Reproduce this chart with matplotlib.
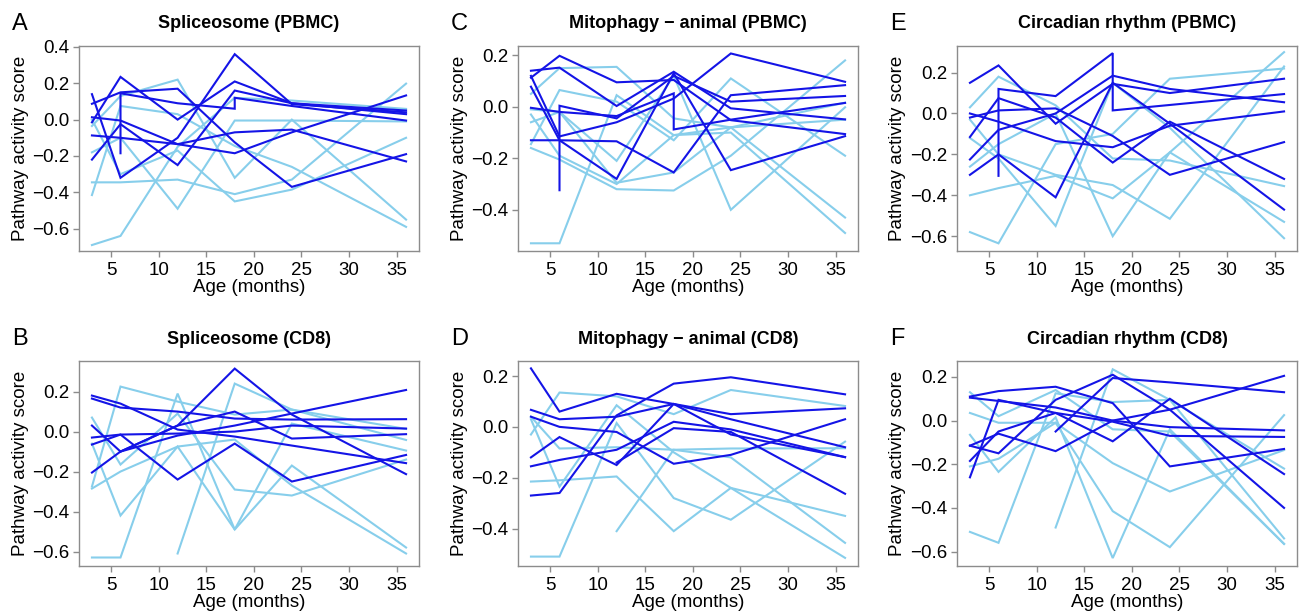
import matplotlib
matplotlib.use("Agg")
import matplotlib.pyplot as plt

plt.rcParams['font.family'] = ['Liberation Sans', 'DejaVu Sans']

AGES = [3, 6, 12, 18, 24, 36]

# ---- Spliceosome (PBMC) ----
A_light = [
    (AGES, [-0.69, -0.64, -0.15, 0.12, 0.105, 0.059]),
    (AGES, [-0.345, -0.345, -0.33, -0.41, -0.33, 0.198]),
    (AGES, [-0.415, 0.075, 0.03, -0.145, -0.26, -0.59]),
    (AGES, [-0.035, 0.13, 0.22, -0.32, 0.0, -0.55]),
    (AGES, [-0.18, -0.10, -0.49, -0.005, -0.005, -0.01]),
    (AGES, [0.0, -0.30, -0.17, -0.45, -0.385, -0.10]),
]
A_dark = [
    (AGES, [0.14, -0.32, -0.10, 0.36, 0.085, 0.04]),
    (AGES, [-0.015, 0.235, 0.0, 0.21, 0.09, 0.03]),
    (AGES, [0.087, 0.15, 0.17, -0.125, -0.37, -0.19]),
    (AGES, [0.013, -0.005, -0.135, -0.185, -0.07, 0.133]),
    (AGES, [-0.087, -0.10, -0.135, -0.07, -0.055, -0.23]),
    (AGES, [-0.22, -0.025, -0.25, 0.16, 0.09, 0.05]),
    ([6, 6, 12, 18, 18, 24, 36], [-0.185, 0.145, 0.09, 0.06, 0.12, 0.075, -0.005]),
]

# ---- Spliceosome (CD8) ----
B_light = [
    (AGES, [-0.63, -0.63, 0.19, -0.49, 0.04, -0.095]),
    (AGES, [-0.275, 0.225, 0.15, 0.085, 0.11, -0.042]),
    (AGES, [0.07, -0.165, 0.09, -0.29, -0.32, -0.14]),
    (AGES, [-0.06, -0.42, -0.075, -0.49, -0.17, -0.58]),
    (AGES, [-0.285, -0.20, -0.075, -0.04, -0.27, -0.61]),
    ([12, 18, 24, 36], [-0.61, 0.24, 0.11, 0.013]),
]
B_dark = [
    (AGES, [0.18, 0.14, 0.01, -0.025, -0.07, -0.158]),
    (AGES, [0.165, 0.12, 0.10, 0.065, 0.06, 0.062]),
    (AGES, [0.03, -0.10, 0.03, 0.315, 0.085, -0.213]),
    (AGES, [-0.03, -0.015, -0.01, 0.0, 0.03, 0.015]),
    (AGES, [-0.065, -0.015, -0.24, -0.06, -0.25, -0.117]),
    (AGES, [-0.205, -0.10, 0.03, 0.10, -0.035, -0.013]),
    ([6, 12, 18, 24, 36], [-0.10, -0.02, 0.03, 0.09, 0.208]),
]

# ---- Mitophagy - animal (PBMC) ----
C_light = [
    (AGES, [-0.53, -0.53, 0.045, -0.11, -0.08, -0.05]),
    (AGES, [0.05, 0.15, 0.155, -0.045, -0.08, -0.43]),
    (AGES, [-0.145, 0.065, 0.02, -0.13, 0.11, -0.19]),
    (AGES, [-0.16, -0.205, -0.32, -0.325, -0.19, 0.18]),
    (AGES, [-0.06, -0.02, -0.295, -0.255, -0.08, 0.016]),
    (AGES, [-0.01, -0.02, -0.21, 0.12, -0.40, -0.002]),
    (AGES, [-0.03, -0.19, -0.30, -0.11, -0.10, -0.49]),
]
C_dark = [
    (AGES, [0.113, 0.198, 0.095, 0.104, -0.052, -0.106]),
    (AGES, [0.14, 0.152, 0.003, 0.136, -0.006, -0.049]),
    (AGES, [0.12, -0.115, -0.06, 0.032, 0.207, 0.097]),
    (AGES, [0.078, -0.13, -0.28, 0.13, -0.246, -0.114]),
    ([3, 6, 12, 18, 18, 24, 36], [-0.004, -0.02, -0.036, 0.052, -0.088, -0.05, 0.015]),
    (AGES, [-0.13, -0.13, -0.134, -0.255, 0.045, 0.084]),
    ([6, 6, 12, 18, 24, 36], [-0.324, 0.004, -0.045, 0.12, 0.02, 0.042]),
]

# ---- Mitophagy - animal (CD8) ----
D_light = [
    (AGES, [-0.51, -0.51, 0.015, -0.28, -0.365, -0.058]),
    (AGES, [0.04, -0.085, -0.08, -0.09, -0.085, -0.084]),
    (AGES, [-0.03, 0.135, 0.12, 0.05, 0.145, 0.082]),
    (AGES, [-0.215, -0.21, -0.195, -0.41, -0.24, -0.35]),
    ([12, 18, 24, 36], [-0.41, -0.09, -0.12, -0.456]),
    (AGES, [0.03, -0.235, 0.085, -0.10, -0.24, -0.515]),
]
D_dark = [
    (AGES, [0.23, 0.06, 0.13, 0.09, 0.03, -0.08]),
    (AGES, [0.067, 0.03, 0.04, 0.09, 0.05, 0.073]),
    (AGES, [0.04, 0.0, -0.02, -0.145, -0.11, 0.03]),
    (AGES, [-0.12, -0.04, -0.15, 0.09, -0.03, -0.119]),
    (AGES, [-0.155, -0.13, -0.09, 0.02, -0.01, -0.119]),
    (AGES, [-0.27, -0.26, 0.045, 0.17, 0.195, 0.128]),
    ([12, 18, 24, 36], [-0.14, -0.005, -0.02, -0.263]),
]

# ---- Circadian rhythm (PBMC) ----
E_light = [
    (AGES, [-0.58, -0.635, -0.15, -0.10, 0.17, 0.22]),
    (AGES, [-0.40, -0.365, -0.305, -0.415, -0.19, 0.30]),
    (AGES, [-0.03, -0.20, -0.30, -0.35, -0.515, 0.23]),
    (AGES, [0.03, 0.18, 0.04, -0.22, -0.23, -0.355]),
    (AGES, [-0.12, -0.22, -0.55, 0.15, -0.07, -0.61]),
    (AGES, [-0.26, -0.15, 0.0, -0.60, -0.19, -0.53]),
]
E_dark = [
    (AGES, [0.15, 0.235, -0.05, 0.145, 0.10, 0.17]),
    (AGES, [-0.02, 0.015, 0.025, -0.11, -0.30, -0.14]),
    (AGES, [0.0, -0.04, -0.135, -0.165, -0.06, 0.01]),
    (AGES, [-0.115, 0.075, -0.02, -0.24, -0.04, -0.32]),
    (AGES, [-0.225, -0.08, 0.0, 0.185, 0.12, 0.055]),
    (AGES, [-0.30, -0.20, -0.41, 0.15, -0.05, -0.47]),
    ([6, 6, 12, 18, 18, 36], [-0.305, 0.12, 0.085, 0.295, 0.015, 0.095]),
]

# ---- Circadian rhythm (CD8) ----
F_light = [
    (AGES, [-0.51, -0.56, 0.125, 0.085, 0.095, -0.22]),
    ([12, 18, 24, 36], [-0.49, 0.235, 0.095, -0.54]),
    (AGES, [0.13, 0.02, 0.14, -0.04, -0.05, -0.565]),
    (AGES, [-0.065, -0.235, 0.015, -0.63, -0.04, -0.565]),
    (AGES, [0.035, -0.01, -0.01, -0.195, -0.325, -0.135]),
    (AGES, [-0.21, -0.175, -0.01, -0.415, -0.58, 0.025]),
]
F_dark = [
    (AGES, [0.11, 0.135, 0.155, 0.08, -0.21, -0.13]),
    (AGES, [0.105, 0.09, 0.06, 0.0, -0.03, -0.045]),
    (AGES, [-0.26, 0.095, 0.035, -0.005, -0.07, -0.075]),
    (AGES, [-0.115, -0.15, 0.095, 0.21, 0.05, -0.40]),
    (AGES, [-0.185, -0.05, 0.035, -0.095, 0.10, -0.245]),
    (AGES, [-0.115, -0.06, -0.14, 0.0, 0.05, 0.205]),
    ([12, 18, 24, 36], [-0.05, 0.195, 0.175, 0.13]),
]

titles = ["Spliceosome (PBMC)", "Mitophagy \u2212 animal (PBMC)", "Circadian rhythm (PBMC)",
          "Spliceosome (CD8)", "Mitophagy \u2212 animal (CD8)", "Circadian rhythm (CD8)"]
letters = ["A", "C", "E", "B", "D", "F"]
panel_data = [(A_light, A_dark), (C_light, C_dark), (E_light, E_dark),
              (B_light, B_dark), (D_light, D_dark), (F_light, F_dark)]
ylims = [(-0.72, 0.405), (-0.558, 0.236), (-0.67, 0.33),
         (-0.67, 0.353), (-0.545, 0.259), (-0.664, 0.273)]
yticks = [[-0.6, -0.4, -0.2, 0.0, 0.2, 0.4], [-0.4, -0.2, 0.0, 0.2], [-0.6, -0.4, -0.2, 0.0, 0.2],
          [-0.6, -0.4, -0.2, 0.0, 0.2], [-0.4, -0.2, 0.0, 0.2], [-0.6, -0.4, -0.2, 0.0, 0.2]]

W, H = 1304, 612
fig = plt.figure(figsize=(W / 100, H / 100), dpi=100)

LIGHT = "#87CEEB"
DARK = "#1414E6"
GRAY = "#8C8C8C"

col_left = [79, 518, 957]
row_top = [46, 361]
aw, ah = 340, 204.5

for i in range(6):
    r, c = divmod(i, 3)
    left = col_left[c] / W
    bottom = 1 - (row_top[r] + ah) / H
    ax = fig.add_axes([left, bottom, aw / W, ah / H])
    light, dark = panel_data[i]
    for ages, vals in light:
        ax.plot(ages, vals, color=LIGHT, lw=1.5, solid_joinstyle='miter')
    for ages, vals in dark:
        ax.plot(ages, vals, color=DARK, lw=1.5, solid_joinstyle='miter')
    ax.set_xlim(1.64, 37.36)
    ax.set_ylim(*ylims[i])
    ax.set_xticks([5, 10, 15, 20, 25, 30, 35])
    ax.set_yticks(yticks[i])
    ax.set_yticklabels([f"{t:.1f}".replace("-", "\u2212") for t in yticks[i]])
    for s in ax.spines.values():
        s.set_color(GRAY)
        s.set_linewidth(1.0)
    ax.tick_params(axis='both', colors=GRAY, labelcolor='black', labelsize=13.5,
                   length=4, width=1.0)
    ax.tick_params(axis='y', pad=3)
    ax.tick_params(axis='x', pad=4)
    ax.set_xlabel("Age (months)", fontsize=13.5, va='center')
    ax.xaxis.set_label_coords(0.5, -37 / ah)
    ax.set_ylabel("Pathway activity score", fontsize=13.5, va='center')
    ax.yaxis.set_label_coords(-59 / aw, 0.5)
    ax.text(0.5, 1 + 22 / ah, titles[i], transform=ax.transAxes, ha='center', va='center',
            fontsize=13, fontweight='bold')
    fig.text((col_left[c] - 67) / W, 1 - (row_top[r] - 22) / H, letters[i],
             fontsize=17, ha='left', va='center')

fig.savefig("out.png", dpi=100)
